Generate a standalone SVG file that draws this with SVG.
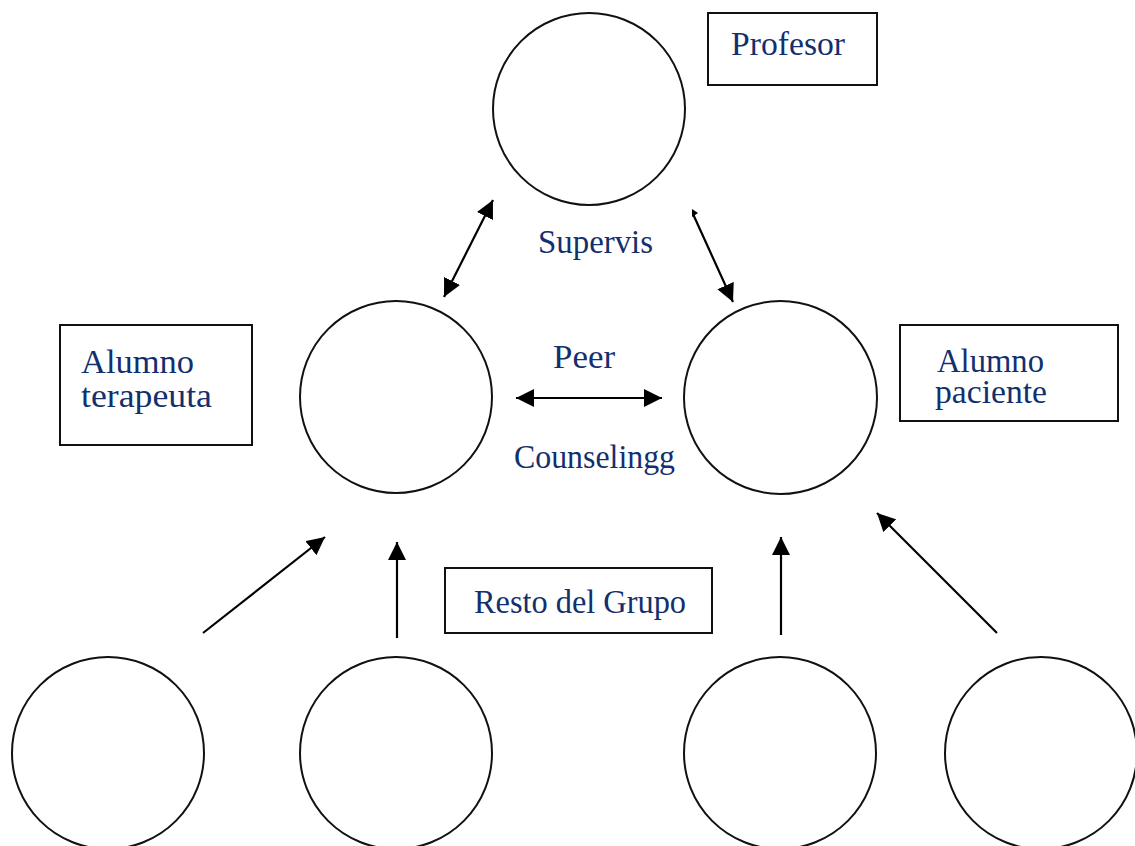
<svg xmlns="http://www.w3.org/2000/svg" width="1135" height="846" viewBox="0 0 1135 846">
<style>
.c{fill:#fff;stroke:#111;stroke-width:2}
.b{fill:#fff;stroke:#111;stroke-width:2}
.t{font-family:"Liberation Serif","Times New Roman",serif;font-size:33px;fill:#13306e}
.l{stroke:#000;stroke-width:2.2;fill:none}
</style>
<defs>
<marker id="ah" markerUnits="userSpaceOnUse" markerWidth="19" markerHeight="18" refX="18" refY="9" orient="auto-start-reverse">
<path d="M0,0 L18,9 L0,18 z" fill="#000"/>
</marker>
</defs>
<rect width="1135" height="846" fill="#fff"/>
<g id="profesor">
<circle class="c" cx="589" cy="109" r="96"/>
<rect class="b" x="708" y="13" width="169" height="72"/>
<text class="t" x="731" y="55" textLength="114" lengthAdjust="spacingAndGlyphs">Profesor</text>
</g>
<g id="alumno-terapeuta">
<circle class="c" cx="396" cy="397" r="96"/>
<rect class="b" x="60" y="325" width="192" height="120"/>
<text class="t" x="81" y="373" textLength="113" lengthAdjust="spacingAndGlyphs">Alumno</text>
<text class="t" x="81" y="407" textLength="131" lengthAdjust="spacingAndGlyphs">terapeuta</text>
</g>
<g id="alumno-paciente">
<circle class="c" cx="780.5" cy="397.5" r="96.5"/>
<rect class="b" x="900" y="325" width="218" height="96"/>
<text class="t" x="937" y="372" textLength="107" lengthAdjust="spacingAndGlyphs">Alumno</text>
<text class="t" x="935" y="403" textLength="112" lengthAdjust="spacingAndGlyphs">paciente</text>
</g>
<g id="resto-grupo">
<rect class="b" x="445" y="568" width="267" height="65"/>
<text class="t" x="474" y="613" textLength="212" lengthAdjust="spacingAndGlyphs">Resto del Grupo</text>
</g>
<g id="grupo-1"><circle class="c" cx="108" cy="753" r="96"/></g>
<g id="grupo-2"><circle class="c" cx="396" cy="753" r="96"/></g>
<g id="grupo-3"><circle class="c" cx="780" cy="753" r="96"/></g>
<g id="grupo-4"><circle class="c" cx="1041" cy="753" r="96"/></g>
<g id="labels">
<text class="t" x="538" y="253" textLength="115" lengthAdjust="spacingAndGlyphs">Supervis</text>
<text class="t" x="553" y="368" textLength="62" lengthAdjust="spacingAndGlyphs">Peer</text>
<text class="t" x="514" y="468" textLength="161" lengthAdjust="spacingAndGlyphs">Counselingg</text>
</g>
<g id="connectors">
<line class="l" x1="444" y1="297" x2="493" y2="200" marker-start="url(#ah)" marker-end="url(#ah)"/>
<line class="l" x1="693" y1="214" x2="733" y2="302" marker-end="url(#ah)"/>
<path d="M692,209 L698,213 L692,217 z" fill="#000"/>
<line class="l" x1="516" y1="398" x2="662" y2="398" marker-start="url(#ah)" marker-end="url(#ah)"/>
<line class="l" x1="203" y1="633" x2="325" y2="537" marker-end="url(#ah)"/>
<line class="l" x1="397" y1="638" x2="397" y2="542" marker-end="url(#ah)"/>
<line class="l" x1="781" y1="635" x2="781" y2="537" marker-end="url(#ah)"/>
<line class="l" x1="997" y1="633" x2="877" y2="513" marker-end="url(#ah)"/>
</g>
</svg>
